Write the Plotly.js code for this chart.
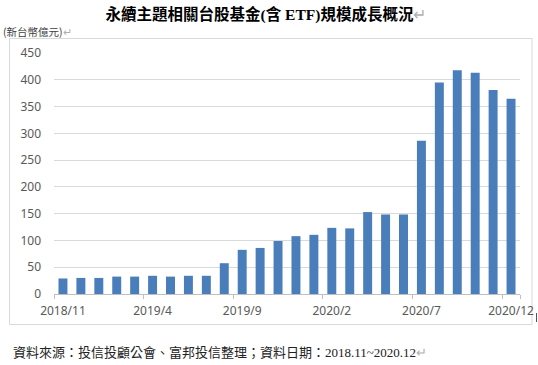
<!DOCTYPE html>
<html>
<head>
<meta charset="utf-8">
<script src="https://cdn.plot.ly/plotly-3.0.1.min.js"></script>
<style>
  html, body { margin: 0; padding: 0; background: #ffffff; }
  #chart { width: 538px; height: 365px; }
</style>
</head>
<body>
<div id="chart"></div>
<script>
// Months (categories)
const months = [
  "2018/11", "2018/12", "2019/1", "2019/2", "2019/3", "2019/4", "2019/5", "2019/6", "2019/7",
  "2019/8", "2019/9", "2019/10", "2019/11", "2019/12", "2020/1", "2020/2", "2020/3", "2020/4",
  "2020/5", "2020/6", "2020/7", "2020/8", "2020/9", "2020/10", "2020/11", "2020/12"
];
// Fund size (NT$ 100 million)
const fundSize = [
  29, 30, 30, 32.5, 32.5, 34, 32.5, 34, 34,
  57.5, 82.5, 86, 99, 108, 110.5, 123.5, 122.5, 153,
  148.5, 148.5, 286, 395, 418, 413, 381, 364.5
];
// Labelled x ticks
const xTickLabels = ["2018/11", "2019/4", "2019/9", "2020/2", "2020/7", "2020/12"];
const yTicks = [0, 50, 100, 150, 200, 250, 300, 350, 400, 450];

const titleText = '永續主題相關台股基金(含 ETF)規模成長概況<span style="color:#b0b0b0;font-weight:normal">↵</span>';
const unitText = '(新台幣億元)<span style="color:#b0b0b0">↵</span>';
const sourceText = '資料來源：投信投顧公會、富邦投信整理；資料日期：2018.11~2020.12<span style="color:#b0b0b0">↵</span>';

const W = 538, H = 365;
const L = 54, R = 18, T = 53, B = 71;
const pw = W - L - R, ph = H - T - B;
const px = v => (v - L) / pw;
const py = v => (H - B - v) / ph;

const data = [{
  type: 'bar',
  x: months,
  y: fundSize,
  marker: { color: '#4a7ebb' },
  hoverinfo: 'x+y'
}];

const layout = {
  width: W,
  height: H,
  margin: { l: L, r: R, t: T, b: B, pad: 0 },
  paper_bgcolor: '#ffffff',
  plot_bgcolor: '#ffffff',
  showlegend: false,
  bargap: 0.5,
  title: {
    text: titleText,
    font: { family: '"Liberation Serif", "Noto Sans CJK TC", serif', size: 15.5, color: '#000000', weight: 'bold' },
    xref: 'container', yref: 'container',
    x: 266 / W, xanchor: 'center',
    y: 1 - 15 / H, yanchor: 'middle'
  },
  xaxis: {
    type: 'category',
    categoryorder: 'array',
    categoryarray: months,
    tickmode: 'array',
    tickvals: xTickLabels,
    ticktext: xTickLabels,
    tickson: 'boundaries',
    tickangle: 0,
    ticks: 'outside',
    ticklen: 4,
    tickcolor: '#bfbfbf',
    tickwidth: 1,
    showline: true,
    linecolor: '#bfbfbf',
    linewidth: 1,
    showgrid: false,
    zeroline: false,
    ticklabelstandoff: 6,
    automargin: false,
    tickfont: { family: '"Noto Sans", sans-serif', size: 12, color: '#595959' },
    fixedrange: true
  },
  yaxis: {
    range: [0, 450],
    tickmode: 'array',
    tickvals: yTicks,
    ticktext: yTicks.map(String),
    showgrid: true,
    gridcolor: '#d9d9d9',
    gridwidth: 1,
    zeroline: false,
    showline: false,
    ticks: '',
    ticklabelstandoff: 12,
    automargin: false,
    tickfont: { family: '"Noto Sans", sans-serif', size: 12, color: '#595959' },
    fixedrange: true
  },
  shapes: [
    {
      type: 'rect', xref: 'paper', yref: 'paper',
      x0: px(9.5), x1: px(532), y0: py(324.5), y1: py(38.5),
      line: { color: '#d9d9d9', width: 1 }, fillcolor: 'rgba(0,0,0,0)', layer: 'below'
    },
    {
      type: 'line', xref: 'paper', yref: 'paper',
      x0: px(536.5), x1: px(536.5), y0: py(313), y1: py(322),
      line: { color: '#555555', width: 1 }
    }
  ],
  annotations: [
    {
      text: unitText,
      xref: 'paper', yref: 'paper',
      x: px(1), y: py(31), xanchor: 'left', yanchor: 'middle',
      showarrow: false,
      font: { family: '"Noto Sans CJK TC", sans-serif', size: 10.5, color: '#404040' }
    },
    {
      text: sourceText,
      xref: 'paper', yref: 'paper',
      x: px(11), y: py(352), xanchor: 'left', yanchor: 'middle',
      showarrow: false,
      font: { family: '"Liberation Serif", "Noto Sans CJK TC", serif', size: 13, color: '#222222' }
    }
  ]
};

Plotly.newPlot('chart', data, layout, { displayModeBar: false, staticPlot: true });
</script>
</body>
</html>
